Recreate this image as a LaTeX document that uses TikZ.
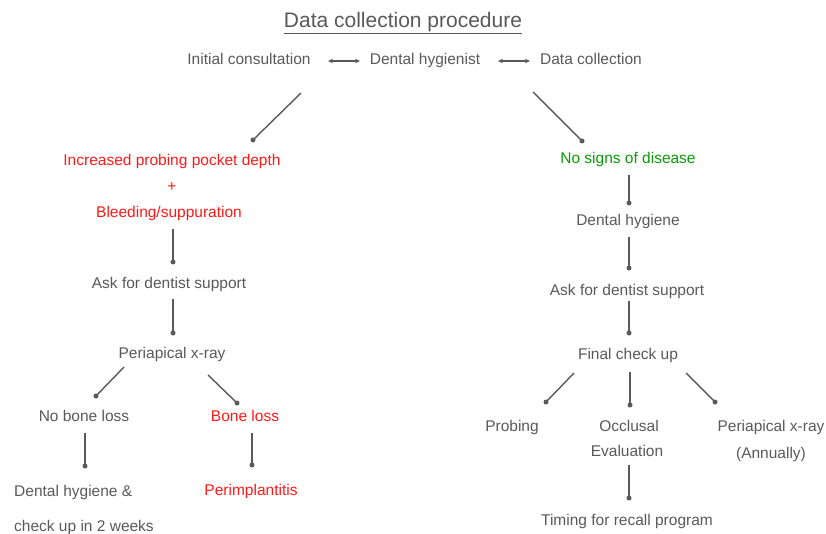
\documentclass[tikz,border=0pt]{standalone}
\usepackage{fontspec}
\setmainfont{Liberation Sans}
\usetikzlibrary{arrows.meta}
\definecolor{txtgray}{HTML}{595959}
\definecolor{linegray}{HTML}{5A5A5A}
\definecolor{myred}{HTML}{FF1A1A}
\definecolor{mygreen}{HTML}{0A9A0A}
\begin{document}
\begin{tikzpicture}[x=1pt,y=-1pt,
  lbl/.style={inner sep=0pt,anchor=base,text=txtgray,font=\fontsize{15.5}{18}\selectfont},
  lblL/.style={lbl,anchor=base west},
  redlbl/.style={lbl,text=myred},
  greenlbl/.style={lbl,text=mygreen},
  conn/.style={draw=linegray,line width=1.4pt},
  enddot/.style={circle,fill=linegray,inner sep=0pt,minimum size=5pt},
  dbl/.style={draw=linegray,line width=1.1pt,{Stealth[length=5pt,width=4.5pt]}-{Stealth[length=5pt,width=4.5pt]}}]
\useasboundingbox (0,0) rectangle (826,534);
% title
\node[lbl,font=\fontsize{21}{24}\selectfont] (title) at (403,27.5) {\underline{Data collection procedure}};
% top row
\node[lbl] (init) at (249,65) {Initial consultation};
\node[lbl] (hyg) at (425,65) {Dental hygienist};
\node[lbl] (data) at (591,65) {Data collection};
\coordinate (a1s) at (328,61); \coordinate (a1e) at (360,61);
\coordinate (a2s) at (498,61); \coordinate (a2e) at (530,61);
\draw[dbl] (a1s) -- (a1e);
\draw[dbl] (a2s) -- (a2e);
% left branch
\coordinate (dl1) at (301,93); \coordinate (dl2) at (253,140);
\draw[conn] (dl1) -- (dl2) node[enddot] (d1) {};
\node[redlbl] (ippd) at (172,166) {Increased probing pocket depth};
\node[redlbl] (plus) at (172,192) {+};
\node[redlbl] (bleed) at (169,218) {Bleeding/suppuration};
\coordinate (l1a) at (173,229); \coordinate (l1b) at (173,262);
\draw[conn] (l1a) -- (l1b) node[enddot] (d2) {};
\node[lbl] (askL) at (169,288) {Ask for dentist support};
\coordinate (l2a) at (173,299); \coordinate (l2b) at (173,333);
\draw[conn] (l2a) -- (l2b) node[enddot] (d3) {};
\node[lbl] (periL) at (172,358) {Periapical x-ray};
\coordinate (l3a) at (124,367); \coordinate (l3b) at (96,396);
\coordinate (l4a) at (208,375); \coordinate (l4b) at (237,403);
\draw[conn] (l3a) -- (l3b) node[enddot] (d4) {};
\draw[conn] (l4a) -- (l4b) node[enddot] (d5) {};
\node[lbl] (nbl) at (84,421) {No bone loss};
\node[redlbl] (bl) at (245,421) {Bone loss};
\coordinate (l5a) at (85,433); \coordinate (l5b) at (85,466);
\coordinate (l6a) at (252,433); \coordinate (l6b) at (252,465);
\draw[conn] (l5a) -- (l5b) node[enddot] (d6) {};
\draw[conn] (l6a) -- (l6b) node[enddot] (d7) {};
\node[lblL] (dh1) at (14,496) {Dental hygiene \&};
\node[lblL] (dh2) at (14,531) {check up in 2 weeks};
\node[redlbl] (peri) at (251,495) {Perimplantitis};
% right branch
\coordinate (dr1) at (533,92); \coordinate (dr2) at (582,141);
\draw[conn] (dr1) -- (dr2) node[enddot] (d8) {};
\node[greenlbl] (nsd) at (628,164) {No signs of disease};
\coordinate (r1a) at (629,175); \coordinate (r1b) at (629,203);
\draw[conn] (r1a) -- (r1b) node[enddot] (d9) {};
\node[lbl] (dhR) at (628,226) {Dental hygiene};
\coordinate (r2a) at (629,237); \coordinate (r2b) at (629,268);
\draw[conn] (r2a) -- (r2b) node[enddot] (d10) {};
\node[lbl] (askR) at (627,295) {Ask for dentist support};
\coordinate (r3a) at (629,301); \coordinate (r3b) at (629,333);
\draw[conn] (r3a) -- (r3b) node[enddot] (d11) {};
\node[lbl] (fcu) at (628,359) {Final check up};
\coordinate (r4a) at (574,373); \coordinate (r4b) at (546,402);
\coordinate (r5a) at (630,372); \coordinate (r5b) at (630,405);
\coordinate (r6a) at (686,373); \coordinate (r6b) at (715,402);
\draw[conn] (r4a) -- (r4b) node[enddot] (d12) {};
\draw[conn] (r5a) -- (r5b) node[enddot] (d13) {};
\draw[conn] (r6a) -- (r6b) node[enddot] (d14) {};
\node[lbl] (prob) at (512,431) {Probing};
\node[lbl] (occ) at (629,431) {Occlusal};
\node[lbl] (eval) at (627,456) {Evaluation};
\node[lbl] (periR) at (771,431) {Periapical x-ray};
\node[lbl] (ann) at (771,458) {(Annually)};
\coordinate (r7a) at (629,465); \coordinate (r7b) at (629,498);
\draw[conn] (r7a) -- (r7b) node[enddot] (d15) {};
\node[lbl] (tim) at (627,525) {Timing for recall program};
\end{tikzpicture}
\end{document}
